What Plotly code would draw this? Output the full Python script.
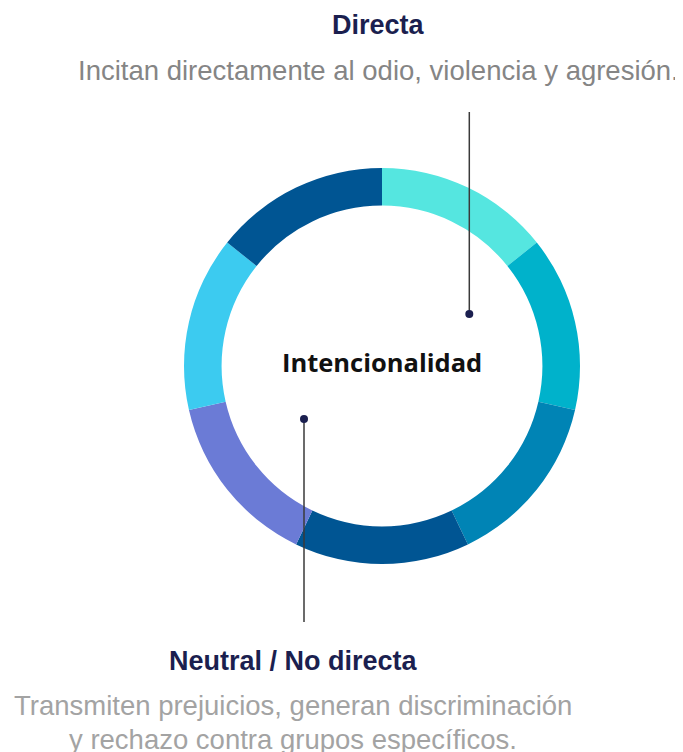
import plotly.graph_objects as go

segments = ["S1", "S2", "S3", "S4", "S5", "S6", "S7"]
values = [1, 1, 1, 1, 1, 1, 1]
colors = ["#55e6e0", "#00b2cb", "#0084b5", "#005593", "#6b7bd6", "#3ccbf0", "#005593"]

center_label = "Intencionalidad"
top_title = "Directa"
top_desc = "Incitan directamente al odio, violencia y agresión."
bottom_title = "Neutral / No directa"
bottom_desc_lines = ["Transmiten prejuicios, generan discriminación",
                     "y rechazo contra grupos específicos."]

# page body has an 8px margin; figure placed at (8, 8) in the window
OFF = 8
W, H = 683 - OFF, 752 - OFF
cx, cy, R = 382, 366, 198

def px(x):
    return (x - OFF) / W

def py(y):
    return 1 - (y - OFF) / H

fig = go.Figure(go.Pie(
    labels=segments,
    values=values,
    marker=dict(colors=colors, line=dict(width=0)),
    hole=0.81,
    sort=False,
    direction="clockwise",
    rotation=0,
    textinfo="none",
    hoverinfo="skip",
    showlegend=False,
    domain=dict(x=[px(cx - R), px(cx + R)], y=[py(cy + R), py(cy - R)]),
))

navy = "#1b1f4f"
gray_top = "#858585"
gray_bot = "#a3a3a3"
font = "Liberation Sans, Arial, sans-serif"

annotations = [
    dict(x=px(382), y=py(362), text="<b>" + center_label + "</b>", showarrow=False,
         font=dict(family="Open Sans, sans-serif", size=25.5, color="#111111"),
         xanchor="center", yanchor="middle"),
    dict(x=px(378.5), y=py(24.5), text="<b>" + top_title + "</b>", showarrow=False,
         font=dict(family=font, size=27, color=navy), xanchor="center", yanchor="middle"),
    dict(x=px(378.5), y=py(70), text=top_desc, showarrow=False,
         font=dict(family=font, size=27.5, color=gray_top), xanchor="center", yanchor="middle"),
    dict(x=px(293), y=py(660.5), text="<b>" + bottom_title + "</b>", showarrow=False,
         font=dict(family=font, size=27, color=navy), xanchor="center", yanchor="middle"),
]
for i, line in enumerate(bottom_desc_lines):
    annotations.append(dict(x=px(293), y=py(705 + 34 * i), text=line, showarrow=False,
                            font=dict(family=font, size=27.5, color=gray_bot),
                            xanchor="center", yanchor="middle"))

shapes = [
    dict(type="line", xref="paper", yref="paper", x0=px(469.3), x1=px(469.3), y0=py(112), y1=py(314),
         line=dict(color="#3a3a3a", width=1.5)),
    dict(type="circle", xref="paper", yref="paper", x0=px(465.3), x1=px(473.3), y0=py(318), y1=py(310),
         fillcolor=navy, line=dict(width=0)),
    dict(type="line", xref="paper", yref="paper", x0=px(304), x1=px(304), y0=py(419), y1=py(622),
         line=dict(color="#3a3a3a", width=1.5)),
    dict(type="circle", xref="paper", yref="paper", x0=px(300), x1=px(308), y0=py(423), y1=py(415),
         fillcolor=navy, line=dict(width=0)),
]

fig.update_layout(
    width=W, height=H,
    margin=dict(l=0, r=0, t=0, b=0),
    paper_bgcolor="white", plot_bgcolor="white",
    annotations=annotations, shapes=shapes,
)

fig.write_html("out.html")
